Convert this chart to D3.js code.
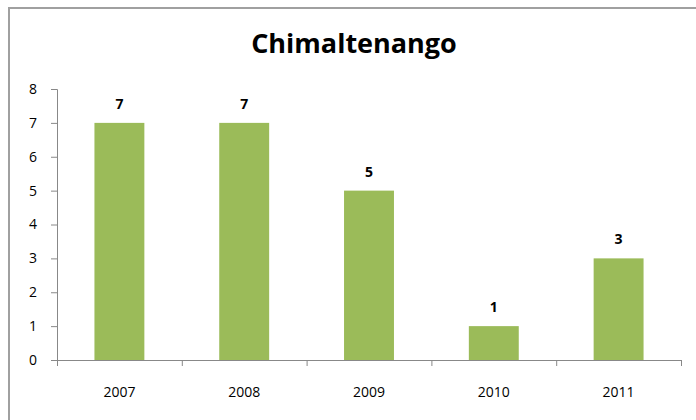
<!DOCTYPE html>
<html>
<head>
<meta charset="utf-8">
<script src="https://cdn.jsdelivr.net/npm/d3@7"></script>
<style>
  body { margin: 0; background: #fff; }
  text { font-family: "Open Sans", "Liberation Sans", sans-serif; }
</style>
</head>
<body>
<script>
var years = ["2007", "2008", "2009", "2010", "2011"];
var values = [7, 7, 5, 1, 3];
var yTicks = [0, 1, 2, 3, 4, 5, 6, 7, 8];

var width = 696, height = 420;
var margin = {top: 89, right: 15, bottom: 60, left: 57};
var w = width - margin.left - margin.right,
    h = height - margin.top - margin.bottom;

var svg = d3.select("body").append("svg")
    .attr("width", width)
    .attr("height", height);

// chart frame (only top and left edges show in the picture)
svg.append("rect")
    .attr("x", 9).attr("y", 8)
    .attr("width", 900).attr("height", 600)
    .attr("fill", "none")
    .attr("stroke", "#a0a0a0")
    .attr("stroke-width", 2);

svg.append("text")
    .attr("x", 354).attr("y", 53)
    .attr("text-anchor", "middle")
    .attr("font-size", 27)
    .attr("font-weight", "bold")
    .text("Chimaltenango");

var g = svg.append("g")
    .attr("transform", "translate(" + margin.left + "," + margin.top + ")");

var x = d3.scaleBand().domain(years).range([0, w]).paddingInner(0.6).paddingOuter(0.3);
var xBand = d3.scaleBand().domain(years).range([0, w]);
var y = d3.scaleLinear().domain([0, 8]).range([h, 0]);

var yAxis = g.append("g")
    .call(d3.axisLeft(y).tickValues(yTicks).tickSize(6).tickPadding(14));
yAxis.select(".domain").attr("stroke", "#888");
yAxis.selectAll(".tick line").attr("stroke", "#888");
yAxis.selectAll("text").attr("font-size", 14).attr("fill", "#000");

var xAxis = g.append("g")
    .attr("transform", "translate(0," + h + ")")
    .call(d3.axisBottom(xBand).tickSize(0).tickPadding(27));
xAxis.select(".domain").attr("stroke", "#888");
xAxis.selectAll("text").attr("font-size", 14).attr("fill", "#000");

// category separators on the x axis
g.selectAll(".xsep")
    .data(years.concat(["end"]))
  .enter().append("line")
    .attr("x1", function(d, i) { return i * xBand.bandwidth() + 0.5; })
    .attr("x2", function(d, i) { return i * xBand.bandwidth() + 0.5; })
    .attr("y1", h).attr("y2", h + 6)
    .attr("stroke", "#888");

g.selectAll(".bar")
    .data(values)
  .enter().append("rect")
    .attr("class", "bar")
    .attr("x", function(d, i) { return x(years[i]); })
    .attr("width", x.bandwidth())
    .attr("y", function(d) { return y(d); })
    .attr("height", function(d) { return h - y(d); })
    .attr("fill", "#9bbb59");

g.selectAll(".lbl")
    .data(values)
  .enter().append("text")
    .attr("x", function(d, i) { return x(years[i]) + x.bandwidth() / 2; })
    .attr("y", function(d) { return y(d) - 14; })
    .attr("text-anchor", "middle")
    .attr("font-size", 14)
    .attr("font-weight", "bold")
    .text(function(d) { return d; });
</script>
</body>
</html>
